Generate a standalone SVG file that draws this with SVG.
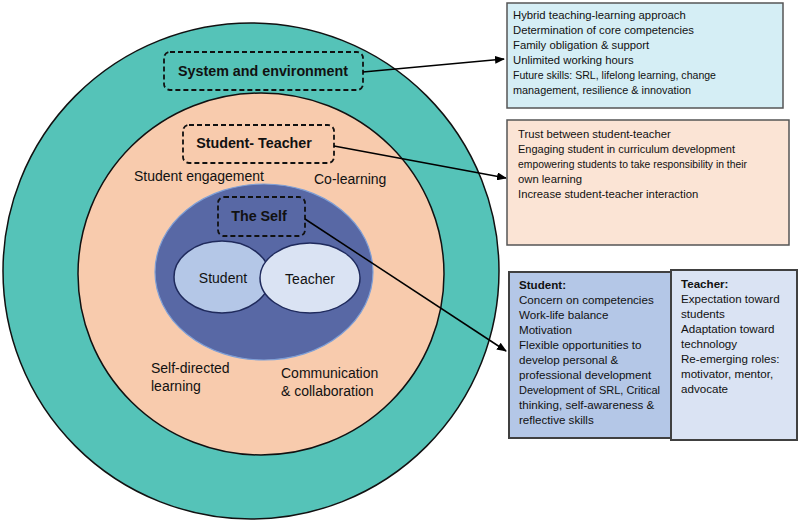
<svg xmlns="http://www.w3.org/2000/svg" width="800" height="527" viewBox="0 0 800 527">
<defs>
<marker id="ah" markerWidth="10" markerHeight="8" refX="9" refY="4" orient="auto" markerUnits="userSpaceOnUse">
<path d="M0,0 L10,4 L0,8 Z" fill="#000"/>
</marker>
<style>
.t{font-family:"Liberation Sans",Arial,sans-serif;fill:#111}
.lbl{font-size:14px}
.hd{font-size:14.3px;font-weight:bold;text-anchor:middle}
.dash{fill:none;stroke:#111;stroke-width:1.8;stroke-dasharray:5,3}
.bx{font-size:11.3px}
.bx3{font-size:11.6px}
.conn{stroke:#000;stroke-width:1.5;fill:none}
</style>
</defs>
<rect width="800" height="527" fill="#fff"/>

<g id="ring-system">
<circle cx="251" cy="271" r="248" fill="#55c3b8" stroke="#111" stroke-width="1.5"/>
</g>
<g id="ring-student-teacher">
<ellipse cx="261" cy="274" rx="183" ry="181" fill="#f8cbad" stroke="#111" stroke-width="1.5"/>
<text class="t lbl" x="134" y="181">Student engagement</text>
<text class="t lbl" x="314" y="184">Co-learning</text>
<text class="t lbl" x="151" y="373">Self-directed</text>
<text class="t lbl" x="151" y="391">learning</text>
<text class="t lbl" x="281" y="378">Communication</text>
<text class="t lbl" x="281" y="396">&amp; collaboration</text>
</g>
<g id="ring-self">
<ellipse cx="264" cy="272" rx="109" ry="88" fill="#5868a5" stroke="#7f9fd6" stroke-width="1.2"/>
</g>
<g id="student">
<ellipse cx="222" cy="277" rx="48" ry="36" fill="#b4c7e7" stroke="#1f2a5c" stroke-width="1.5"/>
<text class="t lbl" x="223" y="283" text-anchor="middle">Student</text>
</g>
<g id="teacher">
<ellipse cx="310" cy="278" rx="50" ry="35" fill="#dae3f3" stroke="#1f2a5c" stroke-width="1.5"/>
<text class="t lbl" x="310" y="284" text-anchor="middle">Teacher</text>
</g>

<g id="label-system">
<rect class="dash" x="164" y="52" width="199" height="38" rx="6"/>
<text class="t hd" x="263" y="76">System and environment</text>
</g>
<g id="label-student-teacher">
<rect class="dash" x="183" y="125" width="151" height="38" rx="6"/>
<text class="t hd" x="254" y="148">Student- Teacher</text>
</g>
<g id="label-self">
<rect class="dash" x="218" y="197" width="87" height="39" rx="6"/>
<text class="t hd" x="259" y="221">The Self</text>
</g>

<g id="connectors">
<path class="conn" d="M363,72 L504,59" marker-end="url(#ah)"/>
<path class="conn" d="M334,146 L506,178" marker-end="url(#ah)"/>
<path class="conn" d="M305,219 L506,351" marker-end="url(#ah)"/>
</g>

<g id="box-system">
<rect x="507" y="3" width="276" height="105" fill="#d5eef5" stroke="#555" stroke-width="1.5"/>
<text class="t bx" x="513" y="19">Hybrid teaching-learning approach</text>
<text class="t bx" x="513" y="34">Determination of core competencies</text>
<text class="t bx" x="513" y="49">Family obligation &amp; support</text>
<text class="t bx" x="513" y="64">Unlimited working hours</text>
<text class="t bx" x="513" y="79" textLength="203" lengthAdjust="spacingAndGlyphs">Future skills: SRL, lifelong learning, change</text>
<text class="t bx" x="513" y="94" textLength="178" lengthAdjust="spacingAndGlyphs">management, resilience &amp; innovation</text>
</g>
<g id="box-student-teacher">
<rect x="507" y="120" width="282" height="125" fill="#fbe4d5" stroke="#555" stroke-width="1.5"/>
<text class="t bx" x="518" y="138">Trust between student-teacher</text>
<text class="t bx" x="518" y="153" textLength="217" lengthAdjust="spacingAndGlyphs">Engaging student in curriculum development</text>
<text class="t bx" x="518" y="168" textLength="229" lengthAdjust="spacingAndGlyphs">empowering students to take responsibility in their</text>
<text class="t bx" x="518" y="183">own learning</text>
<text class="t bx" x="518" y="198">Increase student-teacher interaction</text>
</g>
<g id="box-student">
<rect x="509" y="272" width="162" height="166" fill="#b4c7e7" stroke="#404040" stroke-width="2"/>
<text class="t bx3" x="519" y="289" font-weight="bold">Student:</text>
<text class="t bx3" x="519" y="304">Concern on competencies</text>
<text class="t bx3" x="519" y="319">Work-life balance</text>
<text class="t bx3" x="519" y="334">Motivation</text>
<text class="t bx3" x="519" y="349">Flexible opportunities to</text>
<text class="t bx3" x="519" y="364">develop personal &amp;</text>
<text class="t bx3" x="519" y="379">professional development</text>
<text class="t bx3" x="519" y="394" textLength="141" lengthAdjust="spacingAndGlyphs">Development of SRL, Critical</text>
<text class="t bx3" x="519" y="409">thinking, self-awareness &amp;</text>
<text class="t bx3" x="519" y="424">reflective skills</text>
</g>
<g id="box-teacher">
<rect x="671" y="270" width="126" height="170" fill="#dae3f3" stroke="#404040" stroke-width="2"/>
<text class="t bx3" x="681" y="288" font-weight="bold">Teacher:</text>
<text class="t bx3" x="681" y="303">Expectation toward</text>
<text class="t bx3" x="681" y="318">students</text>
<text class="t bx3" x="681" y="333">Adaptation toward</text>
<text class="t bx3" x="681" y="348">technology</text>
<text class="t bx3" x="681" y="363">Re-emerging roles:</text>
<text class="t bx3" x="681" y="378">motivator, mentor,</text>
<text class="t bx3" x="681" y="393">advocate</text>
</g>
</svg>
